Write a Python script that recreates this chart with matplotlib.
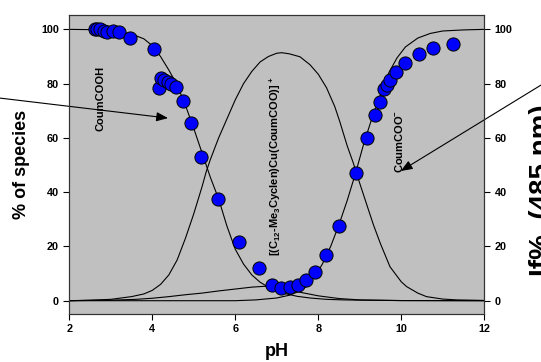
import matplotlib
matplotlib.use("Agg")
import matplotlib.pyplot as plt

plt.rcParams['font.family'] = ['Liberation Sans', 'DejaVu Sans']
plt.rcParams['font.weight'] = 'bold'
plt.rcParams['mathtext.fontset'] = 'custom'
plt.rcParams['mathtext.rm'] = 'Liberation Sans:bold'
plt.rcParams['mathtext.bf'] = 'Liberation Sans:bold'
plt.rcParams['mathtext.default'] = 'bf'

# experimental fluorescence points (pH, If%)
exp_ph = [2.61, 2.68, 2.74, 2.84, 2.92, 3.05, 3.20, 3.46, 4.05, 4.17, 4.22, 4.28, 4.37, 4.46, 4.57,
          4.73, 4.94, 5.17, 5.59, 6.10, 6.57, 6.88, 7.10, 7.31, 7.51, 7.70, 7.92, 8.18, 8.51, 8.90,
          9.17, 9.37, 9.49, 9.58, 9.65, 9.74, 9.87, 10.08, 10.42, 10.76, 11.24]
exp_if = [100.0, 100.3, 100.0, 99.4, 99.1, 99.4, 99.0, 96.9, 92.6, 78.3, 82.2, 81.3, 80.6, 79.8, 78.7,
          73.6, 65.5, 53.0, 37.5, 21.7, 11.9, 5.8, 4.8, 5.0, 5.8, 7.6, 10.6, 16.8, 27.5, 47.2,
          60.1, 68.4, 73.3, 77.9, 79.5, 81.3, 84.4, 87.5, 90.9, 93.2, 94.5]

# species distribution curves
acid_ph = [2.0, 2.5, 3.0, 3.5, 3.8, 4.0, 4.2, 4.4, 4.6, 4.8, 5.0, 5.2, 5.3, 5.4, 5.6, 5.8, 6.0,
           6.2, 6.4, 6.6, 6.8, 7.0, 7.2, 7.5, 7.8, 8.2, 8.6, 9.0, 10.0, 12.0]
acid_pc = [100.0, 99.9, 99.6, 98.3, 96.5, 94.0, 90.0, 85.0, 79.5, 72.0, 63.5, 54.5, 50.0, 45.5, 37.5,
           27.5, 19.0, 13.5, 9.5, 6.8, 5.0, 3.6, 2.6, 1.6, 1.0, 0.5, 0.3, 0.2, 0.05, 0.0]

cplx_ph = [2.0, 2.5, 3.0, 3.5, 3.8, 4.0, 4.2, 4.4, 4.6, 4.8, 5.0, 5.2, 5.3, 5.4, 5.6, 5.8, 6.0,
           6.2, 6.4, 6.6, 6.8, 7.0, 7.12, 7.3, 7.56, 7.8, 8.0, 8.2, 8.4, 8.52, 8.7, 8.84, 9.0,
           9.2, 9.33, 9.5, 9.73, 10.0, 10.13, 10.4, 10.61, 11.0, 11.34, 12.0]
cplx_pc = [0.0, 0.2, 0.5, 1.5, 2.5, 3.8, 6.0, 9.5, 15.0, 23.0, 32.0, 42.0, 47.5, 52.0, 60.0, 67.0, 74.0,
           80.0, 84.5, 88.0, 90.0, 91.2, 91.4, 91.0, 89.9, 87.0, 83.5, 78.5, 71.5, 66.0, 57.0, 51.0, 43.3,
           34.0, 28.0, 21.0, 12.5, 7.0, 5.2, 2.8, 1.5, 0.6, 0.3, 0.1]

base_ph = [2.0, 6.0, 6.5, 7.0, 7.3, 7.5, 7.7, 7.9, 8.1, 8.3, 8.5, 8.7, 8.9, 9.1, 9.3, 9.5, 9.7,
           9.9, 10.1, 10.4, 10.7, 11.0, 11.5, 12.0]
base_pc = [0.0, 0.0, 0.3, 1.0, 2.0, 3.2, 5.0, 8.5, 13.5, 20.0, 28.0, 37.0, 47.0, 58.0, 67.5, 76.0, 84.0,
           89.5, 93.5, 96.8, 98.5, 99.4, 99.8, 100.0]

hump_ph = [2.0, 3.0, 3.6, 4.0, 4.4, 4.8, 5.2, 5.6, 6.0, 6.4, 6.7, 7.0, 7.3, 7.6, 8.0, 8.5, 9.0, 10.0, 12.0]
hump_pc = [0.0, 0.2, 0.5, 0.9, 1.5, 2.2, 2.8, 3.6, 4.3, 5.0, 5.3, 5.0, 4.0, 3.0, 1.8, 0.8, 0.3, 0.05, 0.0]

x_ticks = [2, 4, 6, 8, 10, 12]
y_ticks = [0, 20, 40, 60, 80, 100]

fig = plt.figure(figsize=(5.41, 3.62), dpi=100)
ax = fig.add_axes([0.128, 0.1326, 0.767, 0.826])
ax.set_facecolor('#c0c0c0')

for xs, ys in [(acid_ph, acid_pc), (cplx_ph, cplx_pc), (base_ph, base_pc), (hump_ph, hump_pc)]:
    ax.plot(xs, ys, color='black', lw=0.8, zorder=2)

ax.scatter(exp_ph, exp_if, s=90, facecolor='#0000ff', edgecolor='black', linewidth=0.7, zorder=3)

ax.set_xlim(2, 12)
ax.set_ylim(-4.9, 105.3)
ax.set_xticks(x_ticks)
ax.set_yticks(y_ticks)
ax.tick_params(direction='out', length=4, width=0.8, labelsize=7.8)
for lbl in ax.get_xticklabels() + ax.get_yticklabels():
    lbl.set_fontweight('bold')
ax.set_xlabel('pH', fontsize=13, fontweight='bold', labelpad=6)
ax.set_ylabel('% of species', fontsize=13, fontweight='bold', labelpad=8)

ax2 = ax.twinx()
ax2.set_ylim(-4.9, 105.3)
ax2.set_yticks(y_ticks)
ax2.tick_params(direction='out', length=4, width=0.8, labelsize=7.8)
for lbl in ax2.get_yticklabels():
    lbl.set_fontweight('bold')
fig.text(0.978, 0.475, 'If%. (485 nm)', rotation=90, ha='left', va='center',
         fontsize=20, fontweight='bold')

for a in (ax, ax2):
    for s in a.spines.values():
        s.set_linewidth(0.8)
        s.set_color('#333333')

ax.text(2.76, 74.7, 'CoumCOOH', rotation=90, ha='center', va='center', fontsize=8, fontweight='bold')
ax.text(6.96, 49.6, r'[(C$_{12}$-Me$_3$Cyclen)Cu(CoumCOO)]$^+$', rotation=90, ha='center', va='center',
        fontsize=8, fontweight='bold')
ax.text(9.94, 58.8, r'CoumCOO$^{-}$', rotation=90, ha='center', va='center', fontsize=8, fontweight='bold')

ax.annotate('', xy=(4.38, 67.3), xycoords='data', xytext=(0.0, 0.729), textcoords='figure fraction',
            arrowprops=dict(arrowstyle='-|>,head_length=0.7,head_width=0.28', lw=0.8, color='black',
                            shrinkA=0, shrinkB=0), annotation_clip=False)
ax.annotate('', xy=(9.99, 47.8), xycoords='data', xytext=(1.0, 0.765), textcoords='figure fraction',
            arrowprops=dict(arrowstyle='-|>,head_length=0.7,head_width=0.28', lw=0.8, color='black',
                            shrinkA=0, shrinkB=0), annotation_clip=False)

fig.savefig('out.png', dpi=100)
